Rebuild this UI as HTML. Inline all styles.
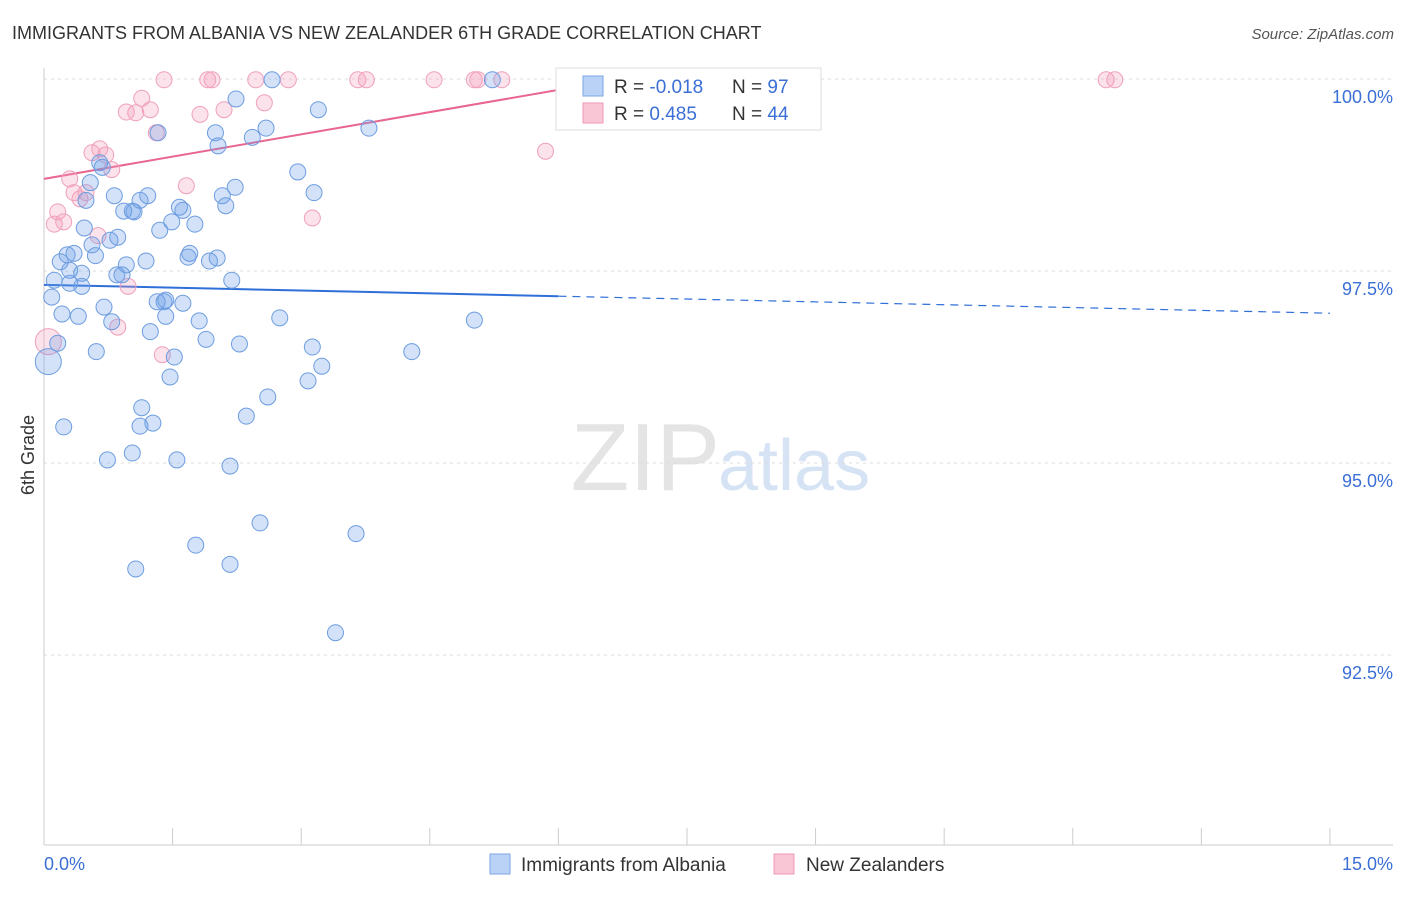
<!DOCTYPE html>
<html><head><meta charset="utf-8"><style>
body{margin:0;background:#fff;font-family:"Liberation Sans",sans-serif}
svg text{font-family:"Liberation Sans",sans-serif}
</style></head><body>
<svg id="c" width="1406" height="892" viewBox="0 0 1406 892">
<text x="12" y="39" font-size="18" fill="#333">IMMIGRANTS FROM ALBANIA VS NEW ZEALANDER 6TH GRADE CORRELATION CHART</text>
<text x="1394" y="39" font-size="15" fill="#555" text-anchor="end" font-style="italic">Source: ZipAtlas.com</text>
<text x="720" y="490" font-size="96" fill="#e4e4e4" text-anchor="end" font-family="Liberation Serif">ZIP</text>
<text x="718" y="490" font-size="72" fill="#d6e3f5">atlas</text>
<g id="grid"></g><g id="axes"></g><g id="trend"></g><g id="pts"></g>
<text transform="translate(34,455) rotate(-90)" font-size="18" fill="#333" text-anchor="middle">6th Grade</text>
<g>
<rect x="556" y="68" width="265" height="62" fill="#fff" stroke="#ddd"/>
<rect x="583" y="76" width="20" height="20" fill="#b9d2f5" stroke="#7aa6e6"/>
<rect x="583" y="103" width="20" height="20" fill="#f9c6d6" stroke="#ee9ab5"/>
<text x="614" y="93" font-size="19" fill="#333">R = <tspan fill="#3b6fd6">-0.018</tspan></text>
<text x="732" y="93" font-size="19" fill="#333">N = <tspan fill="#3b6fd6">97</tspan></text>
<text x="614" y="120" font-size="19" fill="#333">R = <tspan fill="#3b6fd6"> 0.485</tspan></text>
<text x="732" y="120" font-size="19" fill="#333">N = <tspan fill="#3b6fd6">44</tspan></text>
</g>
<g>
<rect x="490" y="854" width="20" height="20" fill="#b9d2f5" stroke="#7aa6e6"/>
<text x="521" y="871" font-size="19" fill="#333">Immigrants from Albania</text>
<rect x="774" y="854" width="20" height="20" fill="#f9c6d6" stroke="#ee9ab5"/>
<text x="806" y="871" font-size="19" fill="#333">New Zealanders</text>
</g>
</svg>
<script>
const blueX=[0.05,0.09,0.12,0.16,0.21,0.23,0.19,0.27,0.30,0.35,0.40,0.30,0.44,0.44,0.47,0.49,0.54,0.56,0.60,0.61,0.65,0.68,0.70,0.74,0.77,0.79,0.82,0.86,0.85,0.91,0.93,0.96,1.03,1.05,1.03,1.07,1.12,1.14,1.12,1.19,1.21,1.24,1.27,1.33,1.35,1.32,1.40,1.42,1.42,1.47,1.52,1.49,1.55,1.58,1.62,1.62,1.68,1.70,1.77,1.76,1.81,1.89,1.93,2.00,2.02,2.03,2.08,2.12,2.17,2.17,2.19,2.23,2.24,2.28,2.36,2.43,2.52,2.59,2.61,2.66,2.75,2.96,3.08,3.13,3.15,3.20,3.24,3.40,3.64,3.79,4.29,5.02,5.23];
const blueY=[96.32,97.16,97.38,96.56,96.94,95.47,97.62,97.71,97.51,97.73,96.91,97.34,97.47,97.30,98.06,98.42,98.65,97.84,97.70,96.45,98.91,98.85,97.03,95.04,97.90,96.84,98.48,97.94,97.45,97.45,98.28,97.58,98.28,98.27,95.13,93.62,98.42,95.72,95.48,97.63,98.48,96.71,95.52,99.30,98.03,97.10,97.10,96.91,97.12,96.12,96.38,98.14,95.04,98.33,98.29,97.08,97.68,97.73,93.93,98.11,96.85,96.61,97.63,99.30,97.67,99.13,98.48,98.35,94.96,93.68,97.38,98.59,99.74,96.55,95.61,99.24,94.22,99.36,95.86,99.99,96.89,98.79,96.07,96.51,98.52,99.60,96.26,92.79,94.08,99.36,96.45,96.86,99.99];
const pinkX=[0.05,0.12,0.16,0.23,0.30,0.35,0.42,0.49,0.56,0.63,0.65,0.72,0.79,0.86,0.96,0.98,1.07,1.14,1.24,1.31,1.38,1.40,1.66,1.82,1.91,1.96,2.10,2.47,2.57,2.85,3.13,3.66,3.76,4.55,5.02,5.06,5.34,5.85,6.95,12.39,12.49];
const pinkY=[96.58,98.11,98.27,98.14,98.70,98.52,98.44,98.52,99.04,97.96,99.09,99.01,98.82,96.77,99.57,97.30,99.56,99.75,99.60,99.30,96.41,99.99,98.61,99.54,99.99,99.99,99.60,99.99,99.69,99.99,98.19,99.99,99.99,99.99,99.99,99.99,99.99,99.06,99.99,99.99,99.99];
const blueTrend=[97.32,96.95];
const pinkTrend=[98.70,0.193];
const xTicks=[0,1.5,3,4.5,6,7.5,9,10.5,12,13.5,15];
const yTicks=[100,97.5,95,92.5];
const yTickLabels=["100.0%","97.5%","95.0%","92.5%"];
const NS="http://www.w3.org/2000/svg";
const X=v=>44+v*85.73, Y=v=>79+(100-v)*76.8;
function mk(tag,attrs,parent){const e=document.createElementNS(NS,tag);for(const k in attrs)e.setAttribute(k,attrs[k]);document.getElementById(parent).appendChild(e);return e;}
yTicks.forEach((t,i)=>{
 const g=mk('line',{x1:44,x2:1393,y1:Y(t),y2:Y(t),stroke:'#ddd','stroke-dasharray':'3,4'},'grid');
 
 
 const l=mk('text',{x:1393,y:Y(t)+24,'font-size':18,fill:'#3b6fd6','text-anchor':'end'},'grid');
 l.textContent=yTickLabels[i];
 
 
});
const ya=mk('line',{x1:44,x2:44,y1:68,y2:845,stroke:'#ccc'},'axes');


const xa=mk('line',{x1:44,x2:1393,y1:845,y2:845,stroke:'#ccc'},'axes');


xTicks.forEach(t=>{
 const tk=mk('line',{x1:X(t),x2:X(t),y1:828,y2:845,stroke:'#ccc'},'axes');
 
 
});
const l0=mk('text',{x:44,y:870,'font-size':18,fill:'#3b6fd6'},'axes');l0.textContent='0.0%';


const l1=mk('text',{x:1393,y:870,'font-size':18,fill:'#3b6fd6','text-anchor':'end'},'axes');l1.textContent='15.0%';


// trends
const by=x=>blueTrend[0]+(blueTrend[1]-blueTrend[0])*x/15;
const t1=mk('line',{x1:X(0),y1:Y(by(0)),x2:X(6),y2:Y(by(6)),stroke:'#2f6fd8','stroke-width':2},'trend');


const t2=mk('line',{x1:X(6),y1:Y(by(6)),x2:X(15),y2:Y(by(15)),stroke:'#2f6fd8','stroke-width':1.2,'stroke-dasharray':'8,6'},'trend');


const pEnd=Math.min(15,(100-pinkTrend[0])/pinkTrend[1]);
const t3=mk('line',{x1:X(0),y1:Y(pinkTrend[0]),x2:X(pEnd),y2:Y(pinkTrend[0]+pinkTrend[1]*pEnd),stroke:'#e8668f','stroke-width':2},'trend');


pinkX.forEach((x,i)=>{
 const c=mk('circle',{cx:X(x),cy:Y(pinkY[i]),r:i==0?13:8,fill:'rgba(244,160,188,0.3)',stroke:'#efa0bb','stroke-width':1},'pts');
 
 
});
blueX.forEach((x,i)=>{
 const c=mk('circle',{cx:X(x),cy:Y(blueY[i]),r:i==0?13:8,fill:'rgba(110,160,232,0.3)',stroke:'#6d9de0','stroke-width':1},'pts');
 
 
});
</script>
</body></html>
